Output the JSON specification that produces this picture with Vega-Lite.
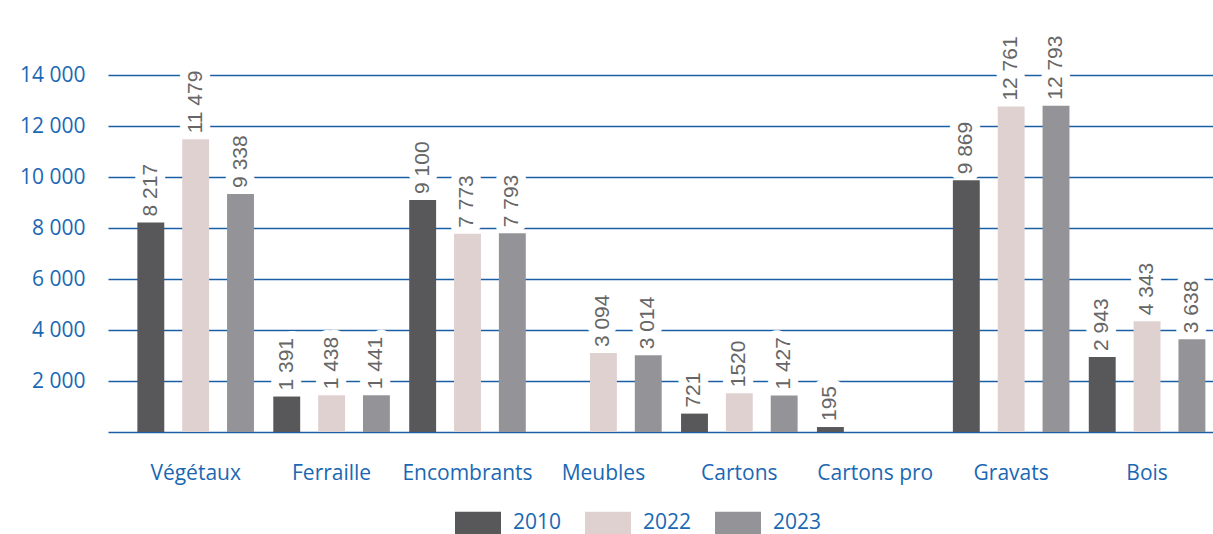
{
  "$schema": "https://vega.github.io/schema/vega-lite/v6.json",
  "autosize": {"type": "none"},
  "padding": {"left": 108, "top": 75, "right": 0, "bottom": 102},
  "width": 1105,
  "height": 357,
  "background": "white",
  "config": {
    "view": {"stroke": null}
  },
  "data": {
    "values": [
      {"categorie": "Végétaux", "annee": "2010", "tonnes": 8217, "etiquette": "8 217"},
      {"categorie": "Végétaux", "annee": "2022", "tonnes": 11479, "etiquette": "11 479"},
      {"categorie": "Végétaux", "annee": "2023", "tonnes": 9338, "etiquette": "9 338"},
      {"categorie": "Ferraille", "annee": "2010", "tonnes": 1391, "etiquette": "1 391"},
      {"categorie": "Ferraille", "annee": "2022", "tonnes": 1438, "etiquette": "1 438"},
      {"categorie": "Ferraille", "annee": "2023", "tonnes": 1441, "etiquette": "1 441"},
      {"categorie": "Encombrants", "annee": "2010", "tonnes": 9100, "etiquette": "9 100"},
      {"categorie": "Encombrants", "annee": "2022", "tonnes": 7773, "etiquette": "7 773"},
      {"categorie": "Encombrants", "annee": "2023", "tonnes": 7793, "etiquette": "7 793"},
      {"categorie": "Meubles", "annee": "2022", "tonnes": 3094, "etiquette": "3 094"},
      {"categorie": "Meubles", "annee": "2023", "tonnes": 3014, "etiquette": "3 014"},
      {"categorie": "Cartons", "annee": "2010", "tonnes": 721, "etiquette": "721"},
      {"categorie": "Cartons", "annee": "2022", "tonnes": 1520, "etiquette": "1520"},
      {"categorie": "Cartons", "annee": "2023", "tonnes": 1427, "etiquette": "1 427"},
      {"categorie": "Cartons pro", "annee": "2010", "tonnes": 195, "etiquette": "195"},
      {"categorie": "Gravats", "annee": "2010", "tonnes": 9869, "etiquette": "9 869"},
      {"categorie": "Gravats", "annee": "2022", "tonnes": 12761, "etiquette": "12 761"},
      {"categorie": "Gravats", "annee": "2023", "tonnes": 12793, "etiquette": "12 793"},
      {"categorie": "Bois", "annee": "2010", "tonnes": 2943, "etiquette": "2 943"},
      {"categorie": "Bois", "annee": "2022", "tonnes": 4343, "etiquette": "4 343"},
      {"categorie": "Bois", "annee": "2023", "tonnes": 3638, "etiquette": "3 638"}
    ]
  },
  "encoding": {
    "x": {
      "field": "categorie",
      "type": "nominal",
      "sort": ["Végétaux", "Ferraille", "Encombrants", "Meubles", "Cartons", "Cartons pro", "Gravats", "Bois"],
      "scale": {"paddingInner": 0.03, "paddingOuter": 0.08, "align": 1},
      "axis": {
        "title": null,
        "labelAngle": 0,
        "ticks": false,
        "domainColor": "#1a5fa3",
        "domainWidth": 1.5,
        "labelFont": "Open Sans",
        "labelFontSize": 21,
        "labelColor": "#1a68b3",
        "labelPadding": 30
      }
    },
    "xOffset": {
      "field": "annee",
      "type": "nominal",
      "scale": {"paddingInner": 0.4, "paddingOuter": 0.17}
    },
    "y": {
      "field": "tonnes",
      "type": "quantitative",
      "scale": {"domain": [0, 14000], "nice": false},
      "axis": {
        "title": null,
        "values": [2000, 4000, 6000, 8000, 10000, 12000, 14000],
        "labelExpr": "replace(format(datum.value, ','), ',', ' ')",
        "domain": false,
        "ticks": false,
        "grid": true,
        "gridColor": "#1a5fa3",
        "gridWidth": 1.3,
        "labelFont": "Open Sans",
        "labelFontSize": 21,
        "labelColor": "#1a68b3",
        "labelPadding": 23
      }
    }
  },
  "layer": [
    {
      "mark": {
        "type": "text",
        "angle": 270,
        "align": "left",
        "baseline": "middle",
        "dx": 6,
        "font": "Liberation Sans",
        "fontSize": 21,
        "stroke": "white",
        "strokeWidth": 16,
        "strokeJoin": "round",
        "fill": "white"
      },
      "encoding": {"text": {"field": "etiquette"}}
    },
    {
      "mark": {"type": "bar"},
      "encoding": {
        "color": {
          "field": "annee",
          "type": "nominal",
          "scale": {"domain": ["2010", "2022", "2023"], "range": ["#58585a", "#e0d1d1", "#949498"]},
          "legend": {
            "title": null,
            "orient": "none",
            "direction": "horizontal",
            "legendX": 347,
            "legendY": 425,
            "symbolType": "M-1,-0.5H1V0.5H-1Z",
            "symbolSize": 2116,
            "symbolStrokeWidth": 0,
            "symbolOpacity": 1,
            "labelFont": "Open Sans",
            "labelFontSize": 21,
            "labelColor": "#1a68b3",
            "labelOffset": 12,
            "columnPadding": 23
          }
        }
      }
    },
    {
      "mark": {
        "type": "text",
        "angle": 270,
        "align": "left",
        "baseline": "middle",
        "dx": 6,
        "font": "Liberation Sans",
        "fontSize": 21,
        "fill": "#666666"
      },
      "encoding": {"text": {"field": "etiquette"}}
    }
  ]
}
